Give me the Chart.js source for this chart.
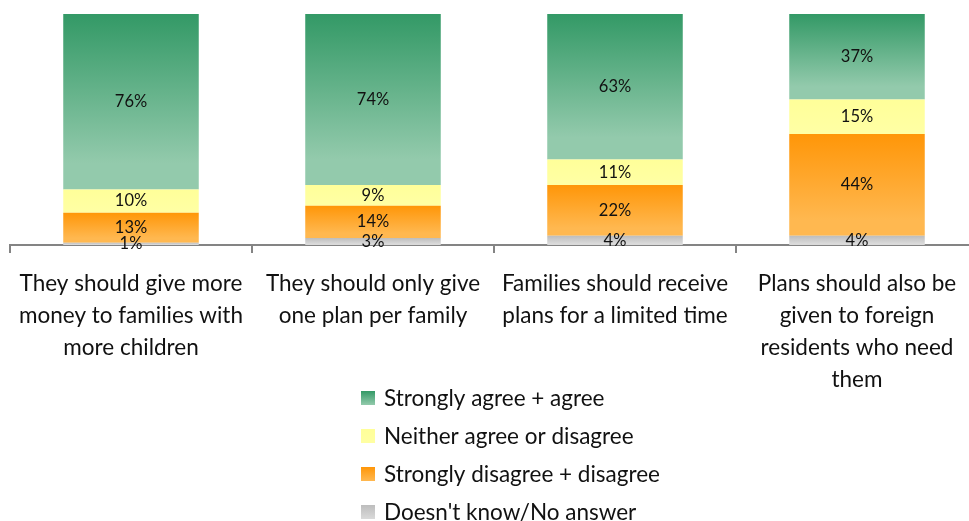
<!DOCTYPE html>
<html>
<head>
<meta charset="utf-8">
<script src="https://cdn.jsdelivr.net/npm/chart.js@4/dist/chart.umd.min.js"></script>
<style>
  html, body { margin: 0; padding: 0; background: #fff; overflow: hidden; }
  #wrap { position: relative; width: 978px; height: 521px; }
</style>
</head>
<body>
<div id="wrap"><canvas id="chart"></canvas></div>
<script>
// Survey statements (x axis, multi-line labels)
const categories = [
  ["They should give more", "money to families with", "more children"],
  ["They should only give", "one plan per family"],
  ["Families should receive", "plans for a limited time"],
  ["Plans should also be", "given to foreign", "residents who need", "them"]
];

// Answer shares in percent, stacked bottom to top
const dontKnow = [1, 3, 4, 4];
const disagree = [13, 14, 22, 44];
const neither = [10, 9, 11, 15];
const agree = [76, 74, 63, 37];

const seriesNames = [
  "Doesn't know/No answer",
  "Strongly disagree + disagree",
  "Neither agree or disagree",
  "Strongly agree + agree"
];

// Vertical gradient stops (top colour, bottom colour) for each series
const fills = [
  ["#BDBDBD", "#DADADA"],
  ["#FF9608", "#FFB850"],
  ["#FFFF99", "#FFFFA3"],
  ["#339966", "#93CAAC"]
];

const seriesValues = [dontKnow, disagree, neither, agree];

const FONT = 'Lato, "Open Sans", sans-serif';

function segmentFill(ctx) {
  const chart = ctx.chart;
  const ds = ctx.datasetIndex;
  const [c0, c1] = fills[ds];
  if (!chart.chartArea || ctx.type !== 'data') return c0;
  const y = chart.scales.y;
  let base = 0;
  for (let i = 0; i < ds; i++) base += seriesValues[i][ctx.dataIndex];
  const top = base + seriesValues[ds][ctx.dataIndex];
  const yTop = y.getPixelForValue(top);
  const yBot = y.getPixelForValue(base);
  const g = chart.ctx.createLinearGradient(0, yTop, 0, Math.max(yBot, yTop + 1));
  g.addColorStop(0, c0);
  g.addColorStop(0.85, c1);
  g.addColorStop(1, c1);
  return g;
}

// Percent labels centred in every segment
const segmentLabels = {
  id: 'segmentLabels',
  afterDatasetsDraw(chart) {
    const ctx = chart.ctx;
    ctx.save();
    ctx.font = '16.5px ' + FONT;
    ctx.fillStyle = '#111';
    ctx.textAlign = 'center';
    ctx.textBaseline = 'middle';
    chart.data.datasets.forEach((ds, i) => {
      chart.getDatasetMeta(i).data.forEach((el, j) => {
        const mid = (el.y + el.base) / 2;
        ctx.fillText(ds.data[j] + '%', el.x, mid);
      });
    });
    ctx.restore();
  }
};

// Single-column legend under the axis labels, top series first
const columnLegend = {
  id: 'columnLegend',
  afterDraw(chart) {
    const ctx = chart.ctx;
    const left = 361, firstRow = 398, rowGap = 38, box = 14;
    ctx.save();
    ctx.font = '22.5px ' + FONT;
    ctx.textBaseline = 'middle';
    ctx.textAlign = 'left';
    const order = chart.data.datasets.map((d, i) => i).reverse();
    order.forEach((dsIndex, row) => {
      const cy = firstRow + row * rowGap;
      const g = ctx.createLinearGradient(0, cy - box / 2, 0, cy + box / 2);
      g.addColorStop(0, fills[dsIndex][0]);
      g.addColorStop(1, fills[dsIndex][1]);
      ctx.fillStyle = g;
      ctx.fillRect(left, cy - box / 2, box, box);
      ctx.fillStyle = '#111';
      ctx.fillText(chart.data.datasets[dsIndex].label, left + 23, cy + 1);
    });
    ctx.restore();
  }
};

new Chart(document.getElementById('chart'), {
  type: 'bar',
  data: {
    labels: categories,
    datasets: seriesValues.map((vals, i) => ({
      label: seriesNames[i],
      data: vals,
      backgroundColor: segmentFill,
      borderWidth: 0,
      categoryPercentage: 1,
      barPercentage: 0.56
    }))
  },
  options: {
    responsive: true,
    maintainAspectRatio: false,
    animation: false,
    layout: { padding: { top: 14, left: 10, right: 0, bottom: 0 } },
    plugins: {
      legend: { display: false },
      tooltip: { enabled: false }
    },
    scales: {
      x: {
        stacked: true,
        border: { display: true, color: '#848484', width: 2 },
        grid: {
          offset: true,
          drawOnChartArea: false,
          drawTicks: true,
          tickLength: 8,
          color: '#848484',
          lineWidth: 2
        },
        ticks: {
          color: '#111',
          padding: 15,
          maxRotation: 0,
          autoSkip: false,
          font: { family: FONT, size: 22.5, lineHeight: 1.42 }
        },
        afterFit(scale) { scale.height = 276; }
      },
      y: {
        stacked: true,
        display: false,
        min: 0,
        max: 100
      }
    }
  },
  plugins: [segmentLabels, columnLegend]
});
</script>
</body>
</html>
